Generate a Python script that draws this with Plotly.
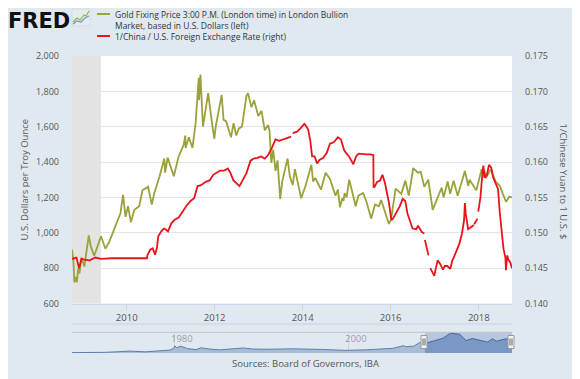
import plotly.graph_objects as go

# ---------------- data ----------------
gold_dates = [
    "2008-10-04", "2008-10-15", "2008-10-24", "2008-11-05", "2008-11-13", "2008-11-25",
    "2008-12-05", "2008-12-20", "2009-01-15", "2009-02-20", "2009-03-10", "2009-04-06",
    "2009-06-02", "2009-07-08", "2009-08-10", "2009-09-08", "2009-10-14", "2009-11-10",
    "2009-12-02", "2009-12-22", "2010-01-12", "2010-02-05", "2010-03-05", "2010-04-15",
    "2010-05-12", "2010-06-28", "2010-07-28", "2010-08-20", "2010-10-01", "2010-11-09",
    "2010-11-16", "2010-12-07", "2011-01-27", "2011-03-07", "2011-04-20", "2011-05-02",
    "2011-05-05", "2011-06-01", "2011-07-01", "2011-07-27", "2011-08-10", "2011-08-22",
    "2011-08-25", "2011-09-05", "2011-09-26", "2011-10-05", "2011-11-08", "2011-12-14",
    "2011-12-29", "2012-01-10", "2012-02-28", "2012-03-15", "2012-04-05", "2012-05-16",
    "2012-06-06", "2012-06-28", "2012-07-20", "2012-08-15", "2012-09-21", "2012-10-04",
    "2012-11-01", "2012-11-23", "2012-12-28", "2013-01-24", "2013-02-20", "2013-03-20",
    "2013-04-01", "2013-04-15", "2013-05-01", "2013-05-20", "2013-06-06", "2013-06-28",
    "2013-07-15", "2013-08-28", "2013-09-16", "2013-10-10", "2013-10-28", "2013-12-19",
    "2014-01-24", "2014-03-14", "2014-03-28", "2014-04-15", "2014-06-02", "2014-07-10",
    "2014-08-15", "2014-09-30", "2014-10-20", "2014-11-06", "2014-11-25", "2014-12-05",
    "2014-12-15", "2014-12-31", "2015-01-22", "2015-03-17", "2015-04-08", "2015-05-18",
    "2015-06-12", "2015-07-24", "2015-08-24", "2015-09-25", "2015-10-14", "2015-12-17",
    "2016-01-04", "2016-02-11", "2016-03-29", "2016-05-02", "2016-05-30", "2016-07-06",
    "2016-08-15", "2016-09-07", "2016-10-06", "2016-11-08", "2016-12-15", "2017-01-25",
    "2017-02-27", "2017-03-15", "2017-04-18", "2017-05-09", "2017-06-06", "2017-07-10",
    "2017-08-10", "2017-09-08", "2017-10-06", "2017-10-16", "2017-12-12", "2018-01-25",
    "2018-02-08", "2018-02-16", "2018-03-01", "2018-04-11", "2018-05-21", "2018-06-25",
    "2018-07-20", "2018-08-16", "2018-09-12", "2018-10-04",
]
gold_values = [
    905, 850, 720, 750, 720, 800,
    770, 860, 810, 985, 920, 870,
    980, 910, 950, 1000, 1060, 1110,
    1215, 1090, 1150, 1060, 1130, 1150,
    1240, 1260, 1160, 1230, 1320, 1420,
    1340, 1425, 1320, 1430, 1500, 1550,
    1480, 1540, 1480, 1620, 1760, 1877,
    1750, 1895, 1600, 1640, 1790, 1600,
    1531, 1600, 1780, 1640, 1630, 1540,
    1620, 1550, 1590, 1600, 1775, 1790,
    1710, 1750, 1660, 1690, 1580, 1610,
    1575, 1395, 1470, 1350, 1410, 1192,
    1290, 1420, 1320, 1270, 1360, 1195,
    1265, 1385, 1290, 1310, 1245, 1340,
    1305, 1210, 1245, 1145, 1195, 1180,
    1225, 1200, 1300, 1150, 1210, 1225,
    1180, 1080, 1160, 1150, 1185, 1050,
    1075, 1250, 1220, 1295, 1210, 1365,
    1340, 1345, 1260, 1300, 1130, 1200,
    1255, 1200, 1290, 1220, 1295, 1210,
    1285, 1350, 1265, 1300, 1240, 1360,
    1315, 1355, 1310, 1360, 1290, 1265,
    1220, 1175, 1205, 1200,
]

cny_dates = [
    "2008-10-04", "2008-10-20", "2008-11-10", "2008-12-01", "2008-12-10", "2008-12-22",
    "2009-01-15", "2009-03-01", "2009-04-15", "2009-06-01", "2009-09-01", "2009-12-01",
    "2010-03-01", "2010-06-18", "2010-06-21", "2010-07-15", "2010-08-05", "2010-08-25",
    "2010-09-10", "2010-09-20", "2010-10-15", "2010-11-05", "2010-11-20", "2010-12-10",
    "2011-01-05", "2011-02-01", "2011-03-10", "2011-04-15", "2011-05-15", "2011-06-15",
    "2011-07-15", "2011-08-12", "2011-09-05", "2011-10-20", "2011-11-20", "2011-12-20",
    "2012-01-15", "2012-02-15", "2012-03-20", "2012-04-20", "2012-05-10", "2012-06-05",
    "2012-07-25", "2012-08-20", "2012-09-20", "2012-10-25", "2012-11-20", "2012-12-20",
    "2013-01-20", "2013-02-20", "2013-03-20", "2013-04-20", "2013-05-20", "2013-06-20",
    "2013-07-20", "2013-08-20", "2013-09-27", "2013-10-04", "2013-10-10", "2013-11-15",
    "2013-12-15", "2014-01-14", "2014-01-25", "2014-02-15", "2014-03-05", "2014-03-20",
    "2014-04-10", "2014-04-30", "2014-05-20", "2014-06-20", "2014-07-20", "2014-08-15",
    "2014-09-15", "2014-10-20", "2014-11-15", "2014-12-10", "2014-12-31", "2015-01-20",
    "2015-02-25", "2015-03-20", "2015-04-10", "2015-05-15", "2015-06-15", "2015-07-15",
    "2015-08-10", "2015-08-12", "2015-08-20", "2015-09-10", "2015-10-05", "2015-10-25",
    "2015-11-15", "2015-12-15", "2016-01-07", "2016-01-20", "2016-02-15", "2016-03-15",
    "2016-04-10", "2016-05-01", "2016-05-20", "2016-06-15", "2016-07-01", "2016-08-01",
    "2016-08-15", "2016-09-15", "2016-10-07", "2016-10-09", "2016-10-11", "2016-10-28",
    "2016-11-10", "2016-11-12", "2016-11-25", "2016-12-15", "2016-12-28", "2017-01-10",
    "2017-01-25", "2017-02-15", "2017-03-10", "2017-03-25", "2017-04-15", "2017-05-10",
    "2017-05-25", "2017-06-15", "2017-07-01", "2017-07-25", "2017-08-15", "2017-09-01",
    "2017-09-08", "2017-09-15", "2017-10-05", "2017-10-25", "2017-11-22", "2017-11-23",
    "2017-11-24", "2017-12-05", "2017-12-22", "2017-12-26", "2017-12-28", "2018-01-15",
    "2018-02-01", "2018-02-08", "2018-02-20", "2018-03-10", "2018-03-27", "2018-04-15",
    "2018-05-01", "2018-05-20", "2018-06-10", "2018-06-25", "2018-07-10", "2018-07-25",
    "2018-08-10", "2018-08-15", "2018-08-25", "2018-09-05", "2018-09-20", "2018-10-04",
]
cny_values = [
    0.1463, 0.1464, 0.1465, 0.1450, 0.1455, 0.1463,
    0.1462, 0.1461, 0.1465, 0.1463, 0.1464, 0.1464,
    0.1464, 0.1464, 0.1468, 0.1476, 0.1478, 0.1469,
    0.1480, 0.1495, 0.1502, 0.1506, 0.1505, 0.1502,
    0.1513, 0.1518, 0.1522, 0.1532, 0.1539, 0.1545,
    0.1549, 0.1566, 0.1567, 0.1572, 0.1574, 0.1582,
    0.1585, 0.1588, 0.1588, 0.1591, 0.1585, 0.1574,
    0.1566, 0.1574, 0.1584, 0.1602, 0.1605, 0.1606,
    0.1608, 0.1605, 0.1610, 0.1620, 0.1632, 0.1630,
    0.1632, 0.1634, 0.1636, None, 0.1641, 0.1643,
    0.1648, 0.1654, 0.1652, 0.1646, 0.1630, 0.1608,
    0.1608, 0.1598, 0.1603, 0.1606, 0.1613, 0.1626,
    0.1628, 0.1635, 0.1632, 0.1617, 0.1612, 0.1608,
    0.1597, 0.1608, 0.1612, 0.1611, 0.1611, 0.1611,
    0.1610, 0.1564, 0.1565, 0.1572, 0.1574, 0.1582,
    0.1570, 0.1545, 0.1518, 0.1520, 0.1528, 0.1537,
    0.1548, 0.1545, 0.1527, 0.1515, 0.1506, 0.1505,
    0.1510, 0.1501, 0.1499, None, 0.1490, 0.1477,
    0.1468, None, 0.1450, 0.1442, 0.1439, 0.1450,
    0.1461, 0.1456, 0.1448, 0.1453, 0.1453, 0.1449,
    0.1460, 0.1468, 0.1474, 0.1485, 0.1499, 0.1518,
    0.1542, 0.1527, 0.1505, 0.1508, 0.1511, None,
    0.1512, 0.1515, 0.1520, None, 0.1530, 0.1550,
    0.1585, 0.1595, 0.1578, 0.1582, 0.1596, 0.1592,
    0.1578, 0.1570, 0.1562, 0.1528, 0.1500, 0.1478,
    0.1465, 0.1447, 0.1468, 0.1462, 0.1458, 0.1450,
]

# long history shown in the navigator strip (gold price)
hist_dates = [
    "1968-04-01", "1970-01-01", "1972-01-01", "1973-07-01", "1974-12-01", "1976-09-01",
    "1978-01-01", "1979-07-01", "1979-12-01", "1980-01-20", "1980-04-01", "1980-10-01",
    "1981-07-01", "1982-07-01", "1983-02-01", "1984-01-01", "1985-03-01", "1986-01-01",
    "1987-12-01", "1989-01-01", "1990-07-01", "1993-08-01", "1996-01-01", "1997-01-01",
    "1999-08-01", "2001-04-01", "2002-01-01", "2003-01-01", "2004-01-01", "2005-01-01",
    "2006-05-01", "2006-08-01", "2007-07-01", "2008-03-01", "2008-10-04",
]
hist_values = [
    38, 35, 60, 120, 185, 110,
    175, 280, 450, 680, 500, 650,
    420, 330, 500, 380, 300, 340,
    480, 380, 360, 400, 400, 340,
    255, 260, 300, 350, 400, 440,
    700, 600, 660, 1000, 905,
]
sel_dates = ["2008-10-04", "2009-12-02", "2010-11-09", "2011-09-05", "2012-10-04",
             "2013-06-28", "2014-03-14", "2015-12-17", "2016-07-06", "2016-12-15",
             "2018-01-25", "2018-10-04"]
sel_values = [905, 1215, 1420, 1895, 1790, 1192, 1385, 1050, 1365, 1130, 1360, 1200]

left_ticks = [600, 800, 1000, 1200, 1400, 1600, 1800, 2000]
right_ticks = [0.140, 0.145, 0.150, 0.155, 0.160, 0.165, 0.170, 0.175]
x_tick_vals = ["2010-01-01", "2012-01-01", "2014-01-01", "2016-01-01", "2018-01-01"]
x_tick_text = ["2010", "2012", "2014", "2016", "2018"]

GOLD = "#9ba13b"
RED = "#e8141c"
BG = "#e1e9f0"
FONT = "Open Sans"

# ---------------- geometry helpers (page pixels -> paper) ----------------
OFF = 8                      # page body margin
W, H = 580 - OFF, 379 - OFF
L, R, T, B = 64, 68, 48, 26
PW, PH = W - L - R, H - T - B


def px(x):
    return (x - OFF - L) / PW


def py(y):
    return (H - B - (y - OFF)) / PH


main_bottom = py(303.5)
slider_top = py(332.3)

fig = go.Figure()
fig.add_trace(go.Scatter(x=gold_dates, y=gold_values, mode="lines",
                         line=dict(color=GOLD, width=1.8), xaxis="x", yaxis="y",
                         showlegend=False, hoverinfo="skip"))
fig.add_trace(go.Scatter(x=cny_dates, y=cny_values, mode="lines",
                         line=dict(color=RED, width=1.8), xaxis="x", yaxis="y2",
                         connectgaps=False, showlegend=False, hoverinfo="skip"))
fig.add_trace(go.Scatter(x=hist_dates, y=hist_values, mode="lines", fill="tozeroy",
                         line=dict(color="#5b7fb2", width=1), fillcolor="#a9bcd6",
                         xaxis="x2", yaxis="y3", showlegend=False, hoverinfo="skip"))
fig.add_trace(go.Scatter(x=sel_dates, y=sel_values, mode="lines", fill="tozeroy",
                         line=dict(color="#46699f", width=1), fillcolor="#7b97c4",
                         xaxis="x2", yaxis="y3", showlegend=False, hoverinfo="skip"))

shapes = [
    dict(type="rect", xref="paper", yref="paper", x0=0, x1=1, y0=main_bottom, y1=1,
         fillcolor="white", line_width=0, layer="below"),
    dict(type="rect", xref="x", yref="paper", x0="2008-10-04", x1="2009-06-01",
         y0=main_bottom, y1=1, fillcolor="#e3e3e3", line_width=0, layer="below"),
    dict(type="line", xref="paper", yref="paper", x0=0, x1=1, y0=py(324), y1=py(324),
         line=dict(color="#c3d2e6", width=1)),
    dict(type="rect", xref="x2", yref="paper", x0="2008-10-04", x1="2018-10-04",
         y0=0, y1=slider_top, fillcolor="#b7c7df", line_width=0, layer="below"),
    dict(type="line", xref="paper", yref="paper", x0=0, x1=1, y0=slider_top, y1=slider_top,
         line=dict(color="#c4c4c4", width=1)),
    dict(type="line", xref="paper", yref="paper", x0=px(97), x1=px(110), y0=py(14), y1=py(14),
         line=dict(color=GOLD, width=2)),
    dict(type="line", xref="paper", yref="paper", x0=px(97), x1=px(110), y0=py(36), y1=py(36),
         line=dict(color=RED, width=2)),
    dict(type="rect", xref="paper", yref="paper", x0=px(72), x1=px(90), y0=py(26), y1=py(9),
         fillcolor="#e6ebef", line=dict(color="#d5dce3", width=1)),
    dict(type="path", xref="paper", yref="paper",
         path=f"M {px(73)} {py(22)} L {px(77)} {py(18)} L {px(80)} {py(20)} L {px(84)} {py(15)} L {px(86)} {py(16)} L {px(89)} {py(11)}",
         line=dict(color="#8fb64a", width=1.2)),
    dict(type="path", xref="paper", yref="paper",
         path=f"M {px(73)} {py(24)} L {px(77)} {py(21)} L {px(81)} {py(22)} L {px(85)} {py(18)} L {px(89)} {py(16)}",
         line=dict(color="#6f9bc9", width=1.2)),
]
for hx in (424, 511):
    shapes.append(dict(type="rect", xref="paper", yref="paper", x0=px(hx - 3), x1=px(hx + 3),
                       y0=py(348.5), y1=py(335.5), fillcolor="#f4f4f4",
                       line=dict(color="#9a9a9a", width=1)))
    for dx in (-1, 1):
        shapes.append(dict(type="line", xref="paper", yref="paper", x0=px(hx + dx), x1=px(hx + dx),
                           y0=py(345.5), y1=py(338.5), line=dict(color="#666666", width=1)))

annotations = [
    dict(text="<b>FRED</b>", x=px(7), y=py(8), xref="paper", yref="paper", xanchor="left",
         yanchor="top", borderpad=0, showarrow=False,
         font=dict(family="DejaVu Sans", size=21, color="#111111")),
    dict(text="Gold Fixing Price 3:00 P.M. (London time) in London Bullion<br>"
              "Market, based in U.S. Dollars (left)<br>"
              "1/China / U.S. Foreign Exchange Rate (right)",
         x=px(114), y=py(25.2), xref="paper", yref="paper", xanchor="left", yanchor="middle",
         align="left", borderpad=0, showarrow=False,
         font=dict(family=FONT, size=8.5, color="#333333")),
    dict(text="U.S. Dollars per Troy Ounce", x=px(15), y=py(180), xref="paper", yref="paper",
         textangle=-90, showarrow=False, font=dict(family=FONT, size=9.5, color="#595959")),
    dict(text="1/Chinese Yuan to 1 U.S. $", x=px(572), y=py(181), xref="paper", yref="paper",
         textangle=90, showarrow=False, font=dict(family=FONT, size=9.5, color="#595959")),
    dict(text="Sources: Board of Governors, IBA", x=px(305), y=py(372), xref="paper", yref="paper",
         showarrow=False, font=dict(family=FONT, size=9.5, color="#555555")),
    dict(text="1980", x="1979-06-01", y=py(346.5), xref="x2", yref="paper", xanchor="left",
         showarrow=False, font=dict(family=FONT, size=9.5, color="rgba(120,120,120,0.7)")),
    dict(text="2000", x="1999-06-01", y=py(346.5), xref="x2", yref="paper", xanchor="left",
         showarrow=False, font=dict(family=FONT, size=9.5, color="rgba(120,120,120,0.7)")),
]

fig.update_layout(
    width=W, height=H,
    margin=dict(l=L, r=R, t=T, b=B, pad=0),
    paper_bgcolor=BG, plot_bgcolor=BG,
    font=dict(family=FONT, size=10, color="#555555"),
    showlegend=False,
    xaxis=dict(type="date", range=["2008-10-04", "2018-10-04"], domain=[0, 1], anchor="y",
               tickvals=x_tick_vals, ticktext=x_tick_text,
               ticks="outside", ticklen=5, tickcolor="#c9d4e2", showgrid=False,
               showline=True, linecolor="#c9d7e8", linewidth=1, zeroline=False,
               tickfont=dict(family=FONT, size=9.5, color="#555555")),
    yaxis=dict(range=[600, 2000], domain=[main_bottom, 1], anchor="x",
               tickvals=left_ticks, tickformat=",", showgrid=True, gridcolor="#e4e4e4",
               gridwidth=1, zeroline=False, ticks="", ticklabelstandoff=12,
               tickfont=dict(family=FONT, size=9, color="#555555")),
    yaxis2=dict(range=[0.14, 0.175], overlaying="y", side="right", anchor="x",
                tickvals=right_ticks, tickformat=".3f", showgrid=False, zeroline=False,
                ticks="", ticklabelstandoff=12,
                tickfont=dict(family=FONT, size=9, color="#555555")),
    xaxis2=dict(type="date", range=["1968-04-01", "2018-10-04"], domain=[0, 1], anchor="y3",
                showticklabels=False, ticks="", showgrid=True, gridcolor="#cdd3da",
                tick0="1980-01-01", dtick="M240", zeroline=False, showline=False),
    yaxis3=dict(range=[0, 1980], domain=[0, slider_top], anchor="x2", showgrid=False,
                showticklabels=False, zeroline=False, ticks=""),
    shapes=shapes,
    annotations=annotations,
)

fig.write_html("out.html")
